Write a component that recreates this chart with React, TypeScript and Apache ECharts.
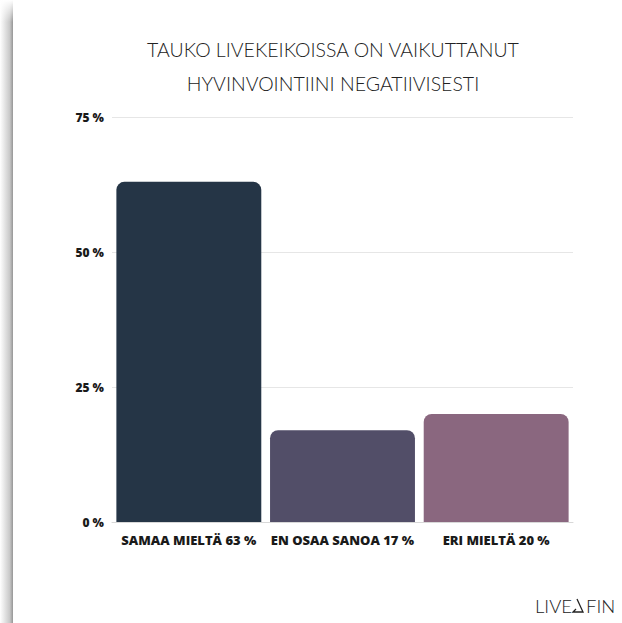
import React, { useEffect, useRef } from "react";
import * as echarts from "echarts";

const categories = ["SAMAA MIELTÄ 63 %", "EN OSAA SANOA 17 %", "ERI MIELTÄ 20 %"];
const values = [63, 17, 20];
const barColors = ["#253546", "#524e68", "#8a677f"];
const yTicks = [0, 25, 50, 75];
const titleText = "TAUKO LIVEKEIKOISSA ON VAIKUTTANUT\nHYVINVOINTIINI NEGATIIVISESTI";

export default function App() {
  const ref = useRef<HTMLDivElement>(null);
  useEffect(() => {
    const chart = echarts.init(ref.current!, null, { renderer: "svg" });
    chart.setOption({
      animation: false,
      backgroundColor: "#ffffff",
      title: {
        text: titleText,
        left: 328,
        textAlign: "center",
        top: 27,
        textStyle: {
          fontFamily: "Lato",
          fontWeight: 300,
          fontSize: 19.5,
          lineHeight: 34,
          color: "#222222",
        },
      },
      grid: { left: 112, right: 49, top: 117, bottom: 101 },
      xAxis: {
        type: "category",
        data: categories,
        axisLine: { show: true, lineStyle: { color: "#d8d8d8", width: 1 } },
        axisTick: { show: false },
        axisLabel: {
          interval: 0,
          margin: 11,
          fontFamily: "Open Sans",
          fontWeight: 800,
          fontSize: 13,
          color: "#1a1a1a",
        },
      },
      yAxis: {
        type: "value",
        min: 0,
        max: 75,
        interval: 25,
        axisLine: { show: false },
        axisTick: { show: false },
        splitLine: { lineStyle: { color: "#e6e6e6", width: 1 } },
        axisLabel: {
          margin: 8,
          fontFamily: "Open Sans",
          fontWeight: 800,
          fontSize: 12,
          color: "#1a1a1a",
          formatter: (v: number) => (yTicks.includes(v) ? `${v} %` : ""),
        },
      },
      series: [
        {
          type: "bar",
          barCategoryGap: "5.7%",
          data: values.map((v, i) => ({
            value: v,
            itemStyle: { color: barColors[i], borderRadius: [8, 8, 0, 0] },
          })),
        },
      ],
      graphic: [
        {
          type: "rect",
          left: 0,
          top: 0,
          shape: { width: 13, height: 623 },
          style: {
            fill: new echarts.graphic.LinearGradient(0, 0, 1, 0, [
              { offset: 0, color: "rgba(255,255,255,1)" },
              { offset: 0.75, color: "rgba(200,200,200,1)" },
              { offset: 1, color: "rgba(150,150,150,1)" },
            ]),
          },
          z: 10,
        },
        {
          type: "rect",
          left: 0,
          top: 0,
          shape: { width: 14, height: 22 },
          style: {
            fill: new echarts.graphic.LinearGradient(0, 0, 0, 1, [
              { offset: 0, color: "rgba(255,255,255,1)" },
              { offset: 1, color: "rgba(255,255,255,0)" },
            ]),
          },
          z: 11,
        },
        {
          type: "text",
          left: 535,
          top: 596,
          style: {
            text: "LIVE",
            font: "300 18.5px Lato",
            fill: "#222222",
          },
          z: 10,
        },
        {
          type: "polyline",
          shape: { points: [[577, 599], [583, 612], [573, 612], [576, 609]] },
          style: { stroke: "#222222", lineWidth: 1.3, fill: "none" },
          z: 10,
        },
        {
          type: "text",
          left: 586,
          top: 596,
          style: {
            text: "FIN",
            font: "300 18.5px Lato",
            fill: "#222222",
          },
          z: 10,
        },
      ],
    });
    return () => chart.dispose();
  }, []);
  return (
    <div
      ref={ref}
      style={{ position: "fixed", left: 0, top: 0, width: 622, height: 623 }}
    />
  );
}
